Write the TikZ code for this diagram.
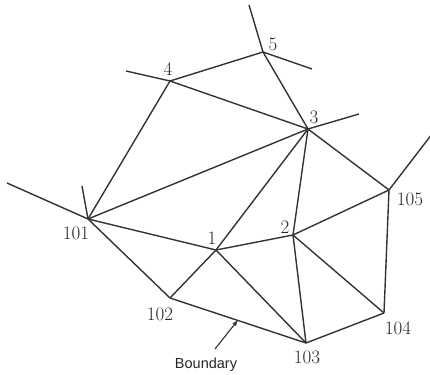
\documentclass[tikz,border=0pt]{standalone}
\usepackage{fontspec}
\newfontfamily\labsans{Liberation Sans}
\begin{document}
\begin{tikzpicture}[x=1pt,y=-1pt,
  edge/.style={draw=black!80,line width=1.4pt},
  lab/.style={font=\fontsize{19}{19}\selectfont,text=black!85,inner sep=0pt}]
\useasboundingbox (0,0) rectangle (430,374);
% points
\coordinate (p101) at (88,219);
\coordinate (p102) at (170,298);
\coordinate (p1) at (216,250);
\coordinate (p2) at (293,235);
\coordinate (p3) at (308,129);
\coordinate (p4) at (170,81);
\coordinate (p5) at (263,52);
\coordinate (p103) at (306,343);
\coordinate (p104) at (384,313);
\coordinate (p105) at (389,190);
% free ends
\coordinate (e101a) at (7,183);
\coordinate (e101b) at (82,186);
\coordinate (e4) at (126,71);
\coordinate (e5a) at (249,5);
\coordinate (e5b) at (312,69);
\coordinate (e3) at (359,114);
\coordinate (e105) at (432,134);
% edges
\draw[edge] (p101) -- (p4);
\draw[edge] (p101) -- (p3);
\draw[edge] (p101) -- (p1);
\draw[edge] (p101) -- (p102);
\draw[edge] (p4) -- (p5);
\draw[edge] (p4) -- (p3);
\draw[edge] (p5) -- (p3);
\draw[edge] (p3) -- (p1);
\draw[edge] (p3) -- (p2);
\draw[edge] (p3) -- (p105);
\draw[edge] (p1) -- (p102);
\draw[edge] (p1) -- (p2);
\draw[edge] (p1) -- (p103);
\draw[edge] (p2) -- (p105);
\draw[edge] (p2) -- (p103);
\draw[edge] (p2) -- (p104);
\draw[edge] (p105) -- (p104);
\draw[edge] (p104) -- (p103);
\draw[edge] (p102) -- (p103);
% dangling
\draw[edge] (p101) -- (e101a);
\draw[edge] (p101) -- (e101b);
\draw[edge] (p4) -- (e4);
\draw[edge] (p5) -- (e5a);
\draw[edge] (p5) -- (e5b);
\draw[edge] (p3) -- (e3);
\draw[edge] (p105) -- (e105);
% labels
\node[lab] (l101) at (76,233) {101};
\node[lab] (l102) at (160,314) {102};
\node[lab] (l1) at (212,238) {1};
\node[lab] (l2) at (285,227) {2};
\node[lab] (l3) at (314,117) {3};
\node[lab] (l4) at (168,69) {4};
\node[lab] (l5) at (273,44) {5};
\node[lab] (l103) at (307,357) {103};
\node[lab] (l104) at (398,328) {104};
\node[lab] (l105) at (410,199) {105};
\node[font=\labsans\fontsize{14.5}{14.5}\selectfont,text=black!85,inner sep=1pt] (lb) at (206,365) {Boundary};
\coordinate (tip) at (238,320);
\draw[black!80,line width=1.1pt,-latex] (215,349) -- (tip);
\end{tikzpicture}
\end{document}
